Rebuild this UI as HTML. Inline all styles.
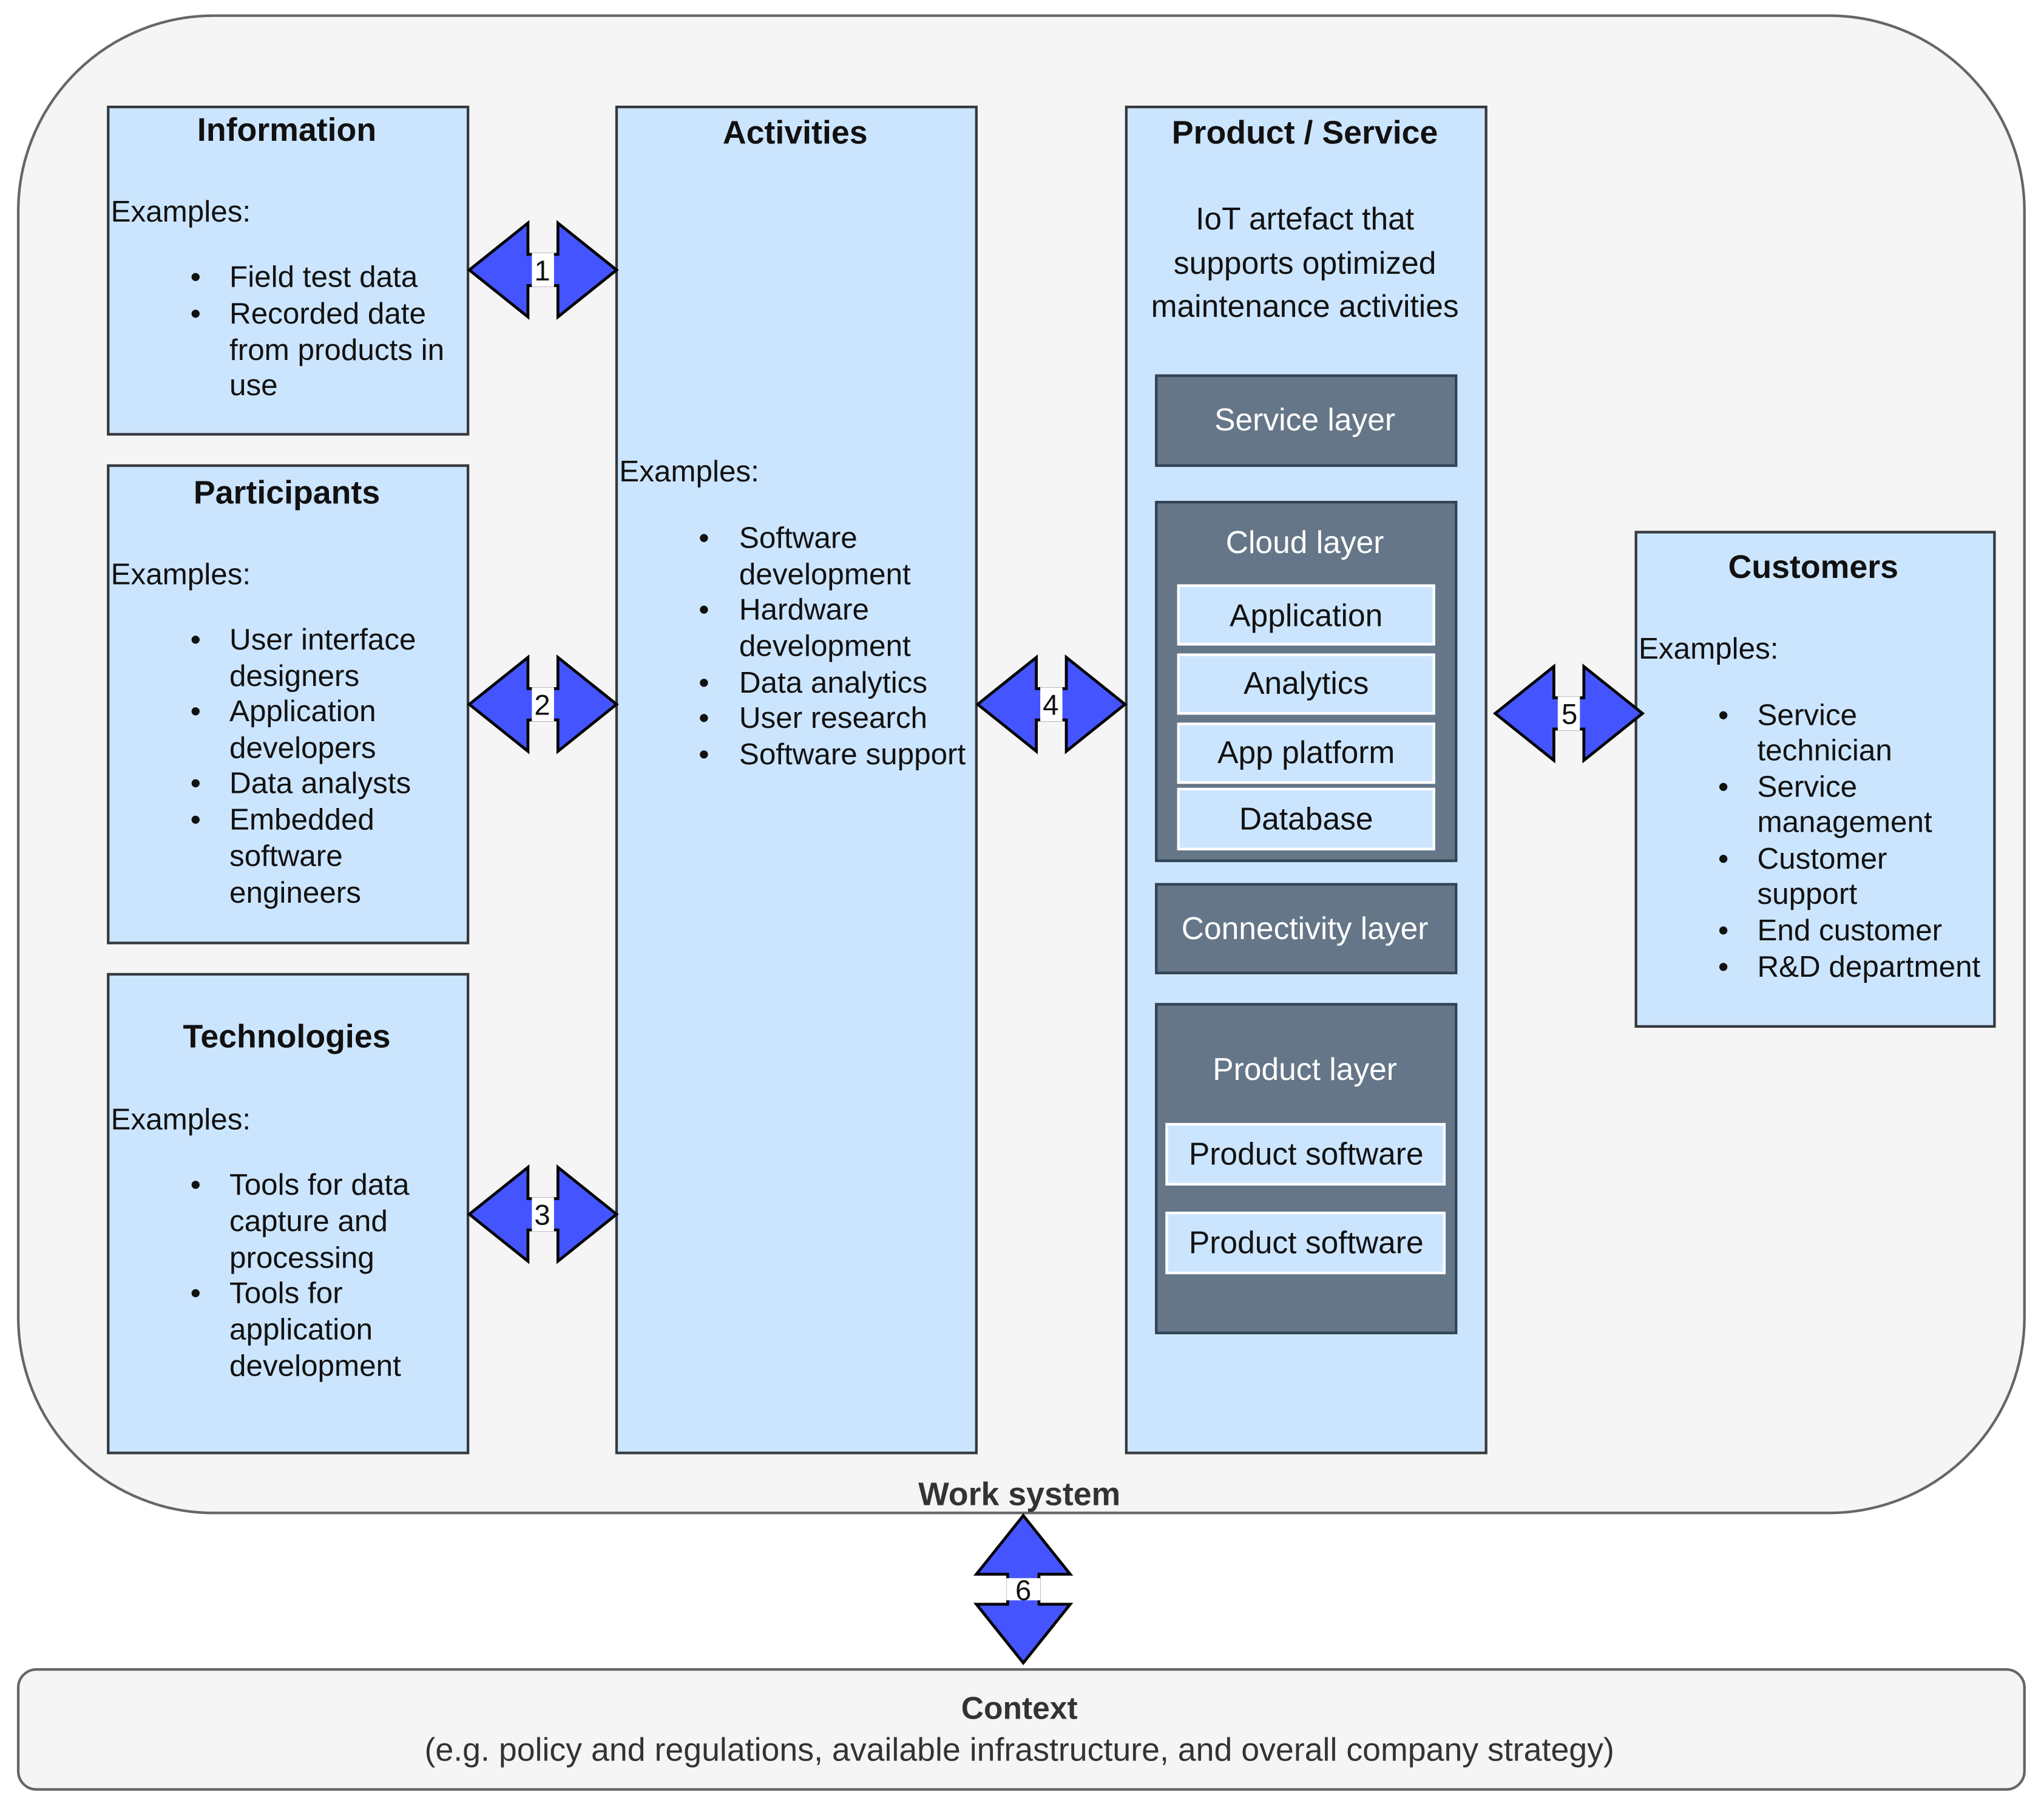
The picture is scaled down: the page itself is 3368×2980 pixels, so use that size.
<!DOCTYPE html>
<html><head><meta charset="utf-8"><style>html,body{margin:0;padding:0;background:#fff}svg{display:block}</style></head>
<body>
<svg width="3368" height="2980" viewBox="0 0 1568 1387" preserveAspectRatio="none" xmlns="http://www.w3.org/2000/svg" font-family="Liberation Sans, Arial, sans-serif">
<defs>
<g id="harrow">
<polygon points="0,0 45,-36 45,-12 68,-12 68,-36 113,0 68,36 68,12 45,12 45,36" fill="#4455ff" stroke="#000" stroke-width="2.2" stroke-linejoin="miter"/>
<rect x="48" y="-13" width="17" height="26" fill="#fff"/>
</g>
</defs>
<rect x="14" y="12" width="1539" height="1148" rx="150" fill="#f5f5f5" stroke="#666" stroke-width="2"/>
<g fill="#cce5ff" stroke="#36393d" stroke-width="2">
<rect x="83" y="82" width="276" height="251"/>
<rect x="83" y="357" width="276" height="366"/>
<rect x="83" y="747" width="276" height="367"/>
<rect x="473" y="82" width="276" height="1032"/>
<rect x="864" y="82" width="276" height="1032"/>
<rect x="1255" y="408" width="275" height="379"/>
</g>
<g fill="#647687" stroke="#314354" stroke-width="2">
<rect x="887" y="288" width="230" height="69"/>
<rect x="887" y="385" width="230" height="275"/>
<rect x="887" y="678" width="230" height="68"/>
<rect x="887" y="770" width="230" height="252"/>
</g>
<g fill="#cce5ff" stroke="#fff" stroke-width="2">
<rect x="904" y="449" width="196" height="45"/>
<rect x="904" y="502" width="196" height="45"/>
<rect x="904" y="555" width="196" height="45"/>
<rect x="904" y="605" width="196" height="46"/>
<rect x="895" y="862" width="213" height="46"/>
<rect x="895" y="930" width="213" height="46"/>
</g>
<g font-size="23" fill="#111">
<g font-weight="bold" font-size="25" text-anchor="middle">
<text x="220" y="108">Information</text>
<text x="220" y="386">Participants</text>
<text x="220" y="803">Technologies</text>
<text x="610" y="110">Activities</text>
<text x="1001" y="110">Product / Service</text>
<text x="1391" y="443">Customers</text>
</g>
<text x="85" y="170">Examples:</text>
<text x="146" y="220">•</text><text x="176" y="220">Field test data</text>
<text x="146" y="248">•</text><text x="176" y="248">Recorded date</text>
<text x="176" y="276">from products in</text>
<text x="176" y="303">use</text>
<text x="85" y="448">Examples:</text>
<text x="146" y="498">•</text><text x="176" y="498">User interface</text>
<text x="176" y="526">designers</text>
<text x="146" y="553">•</text><text x="176" y="553">Application</text>
<text x="176" y="581">developers</text>
<text x="146" y="608">•</text><text x="176" y="608">Data analysts</text>
<text x="146" y="636">•</text><text x="176" y="636">Embedded</text>
<text x="176" y="664">software</text>
<text x="176" y="692">engineers</text>
<text x="85" y="866">Examples:</text>
<text x="146" y="916">•</text><text x="176" y="916">Tools for data</text>
<text x="176" y="944">capture and</text>
<text x="176" y="972">processing</text>
<text x="146" y="999">•</text><text x="176" y="999">Tools for</text>
<text x="176" y="1027">application</text>
<text x="176" y="1055">development</text>
<text x="475" y="369">Examples:</text>
<text x="536" y="420">•</text><text x="567" y="420">Software</text>
<text x="567" y="448">development</text>
<text x="536" y="475">•</text><text x="567" y="475">Hardware</text>
<text x="567" y="503">development</text>
<text x="536" y="531">•</text><text x="567" y="531">Data analytics</text>
<text x="536" y="558">•</text><text x="567" y="558">User research</text>
<text x="536" y="586">•</text><text x="567" y="586">Software support</text>
<text x="1257" y="505">Examples:</text>
<text x="1318" y="556">•</text><text x="1348" y="556">Service</text>
<text x="1348" y="583">technician</text>
<text x="1318" y="611">•</text><text x="1348" y="611">Service</text>
<text x="1348" y="638">management</text>
<text x="1318" y="666">•</text><text x="1348" y="666">Customer</text>
<text x="1348" y="693">support</text>
<text x="1318" y="721">•</text><text x="1348" y="721">End customer</text>
<text x="1318" y="749">•</text><text x="1348" y="749">R&amp;D department</text>
<g text-anchor="middle" font-size="24">
<text x="1001" y="176">IoT artefact that</text>
<text x="1001" y="210">supports optimized</text>
<text x="1001" y="243">maintenance activities</text>
<g fill="#fff">
<text x="1001" y="330">Service layer</text>
<text x="1001" y="424">Cloud layer</text>
<text x="1001" y="720">Connectivity layer</text>
<text x="1001" y="828">Product layer</text>
</g>
<text x="1002" y="480">Application</text>
<text x="1002" y="532">Analytics</text>
<text x="1002" y="585">App platform</text>
<text x="1002" y="636">Database</text>
<text x="1002" y="893">Product software</text>
<text x="1002" y="961">Product software</text>
</g>
</g>
<use href="#harrow" x="360" y="207"/>
<use href="#harrow" x="360" y="540"/>
<use href="#harrow" x="360" y="931"/>
<use href="#harrow" x="750" y="540"/>
<use href="#harrow" x="1147" y="547"/>
<g transform="translate(785,1162) rotate(90)"><use href="#harrow"/></g>
<g font-size="22" fill="#111" text-anchor="middle">
<text x="416" y="215">1</text>
<text x="416" y="548">2</text>
<text x="416" y="939">3</text>
<text x="806" y="548">4</text>
<text x="1204" y="555">5</text>
<text x="785" y="1227">6</text>
</g>
<text x="782" y="1154" text-anchor="middle" font-weight="bold" font-size="25" fill="#333">Work system</text>
<rect x="14" y="1280" width="1539" height="92" rx="14" fill="#f5f5f5" stroke="#666" stroke-width="2"/>
<text x="782" y="1318" text-anchor="middle" font-weight="bold" font-size="24" fill="#333">Context</text>
<text x="782" y="1350" text-anchor="middle" font-size="25" fill="#333">(e.g. policy and regulations, available infrastructure, and overall company strategy)</text>
</svg>
</body></html>
